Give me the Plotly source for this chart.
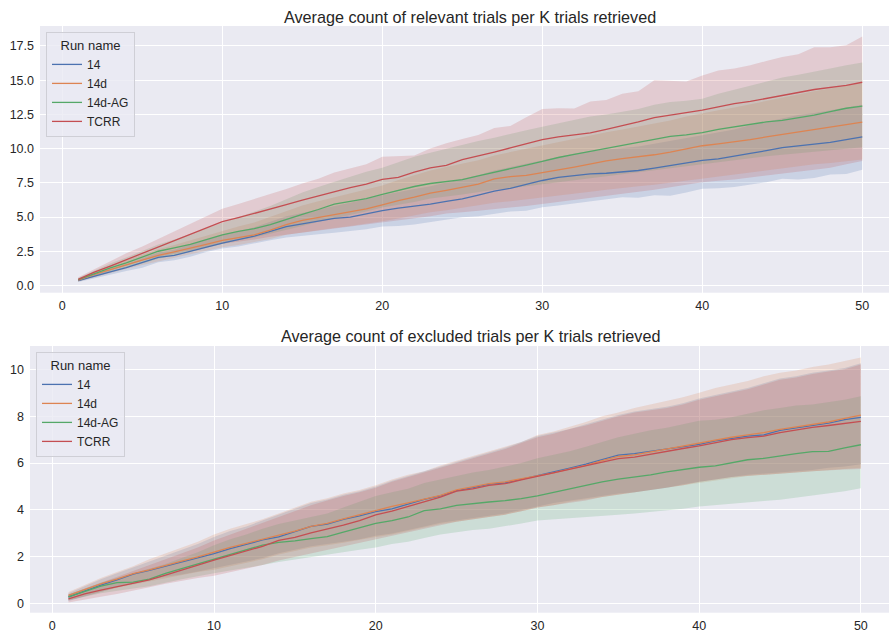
import plotly.graph_objects as go

# ---------------- data ----------------
K = list(range(1, 51))
RUNS = ["14", "14d", "14d-AG", "TCRR"]
COLORS = ["#4c72b0", "#dd8452", "#55a868", "#c44e52"]
BANDS = ["rgba(76,114,176,0.2)", "rgba(221,132,82,0.2)",
         "rgba(85,168,104,0.2)", "rgba(196,78,82,0.2)"]

TITLE_TOP = "Average count of relevant trials per K trials retrieved"
TITLE_BOT = "Average count of excluded trials per K trials retrieved"
LEGEND_TITLE = "Run name"

X_TICKS = [0, 10, 20, 30, 40, 50]
Y_TICKS_TOP = [0, 2.5, 5, 7.5, 10, 12.5, 15, 17.5]
Y_LABELS_TOP = ["0.0", "2.5", "5.0", "7.5", "10.0", "12.5", "15.0", "17.5"]
Y_TICKS_BOT = [0, 2, 4, 6, 8, 10]

# ---- relevant trials (top) ----
rel_14_mean = [0.35, 0.7, 1.0, 1.3, 1.65, 2.05, 2.2, 2.5, 2.85, 3.1,
               3.35, 3.6, 3.95, 4.3, 4.5, 4.7, 4.9, 5.0, 5.25, 5.47,
               5.65, 5.79, 5.95, 6.15, 6.33, 6.6, 6.89, 7.1, 7.4, 7.67,
               7.9, 8.04, 8.15, 8.2, 8.28, 8.4, 8.58, 8.75, 8.95, 9.14,
               9.25, 9.43, 9.65, 9.85, 10.07, 10.2, 10.31, 10.45, 10.65, 10.85]
rel_14_lo = [0.25, 0.55, 0.8, 1.05, 1.3, 1.7, 1.85, 2.1, 2.45, 2.7,
             2.85, 3.05, 3.3, 3.5, 3.65, 3.75, 3.85, 3.95, 4.1, 4.3,
             4.35, 4.45, 4.6, 4.8, 4.98, 5.05, 5.25, 5.4, 5.45, 5.72,
             5.85, 5.95, 6.1, 6.3, 6.45, 6.4, 6.6, 6.55, 6.8, 7.06,
             7.1, 7.2, 7.35, 7.55, 7.79, 7.75, 7.85, 8.1, 8.15, 8.45]
rel_14_hi = [0.45, 0.85, 1.2, 1.55, 1.95, 2.4, 2.6, 2.95, 3.35, 3.7,
             3.95, 4.25, 4.65, 5.05, 5.3, 5.55, 5.8, 6.0, 6.3, 6.6,
             6.85, 7.05, 7.25, 7.5, 7.75, 8.05, 8.4, 8.65, 8.95, 9.2,
             9.45, 9.65, 9.8, 9.9, 10.0, 10.15, 10.35, 10.55, 10.8, 11.0,
             11.15, 11.4, 11.7, 11.95, 12.25, 12.45, 12.6, 12.8, 13.0, 13.2]

rel_14d_mean = [0.38, 0.8, 1.15, 1.5, 1.85, 2.2, 2.45, 2.7, 3.0, 3.3,
                3.5, 3.7, 4.05, 4.45, 4.75, 4.95, 5.15, 5.35, 5.6, 5.89,
                6.2, 6.45, 6.75, 6.95, 7.18, 7.4, 7.79, 7.95, 8.05, 8.23,
                8.45, 8.65, 8.9, 9.1, 9.26, 9.4, 9.55, 9.75, 10.0, 10.21,
                10.35, 10.48, 10.65, 10.85, 11.02, 11.2, 11.39, 11.55, 11.75, 11.93]
rel_14d_lo = [0.28, 0.6, 0.9, 1.2, 1.5, 1.8, 2.0, 2.25, 2.55, 2.8,
              2.95, 3.15, 3.4, 3.7, 3.9, 4.05, 4.2, 4.35, 4.5, 4.7,
              4.9, 5.1, 5.35, 5.5, 5.7, 5.85, 6.05, 6.15, 6.25, 6.4,
              6.55, 6.7, 6.85, 7.0, 7.15, 7.25, 7.35, 7.5, 7.65, 7.8,
              7.95, 8.1, 8.25, 8.4, 8.55, 8.7, 8.85, 8.95, 9.05, 9.2]
rel_14d_hi = [0.5, 1.0, 1.45, 1.85, 2.25, 2.65, 2.95, 3.3, 3.65, 4.0,
              4.3, 4.6, 5.0, 5.45, 5.85, 6.15, 6.45, 6.75, 7.0, 7.3,
              7.7, 8.05, 8.4, 8.65, 8.9, 9.15, 9.5, 9.75, 9.95, 10.2,
              10.45, 10.7, 10.95, 11.2, 11.4, 11.6, 11.8, 12.05, 12.35, 12.6,
              12.8, 13.0, 13.25, 13.5, 13.7, 13.95, 14.2, 14.4, 14.6, 14.8]

rel_ag_mean = [0.42, 0.85, 1.28, 1.65, 2.05, 2.5, 2.75, 3.0, 3.35, 3.7,
               3.95, 4.15, 4.45, 4.85, 5.2, 5.55, 5.95, 6.15, 6.35, 6.66,
               6.95, 7.23, 7.45, 7.6, 7.74, 8.0, 8.28, 8.55, 8.8, 9.06,
               9.35, 9.58, 9.8, 10.05, 10.24, 10.5, 10.73, 10.9, 11.0, 11.17,
               11.4, 11.58, 11.75, 11.95, 12.07, 12.25, 12.44, 12.7, 12.95, 13.1]
rel_ag_lo = [0.3, 0.65, 1.0, 1.3, 1.6, 1.95, 2.2, 2.45, 2.75, 3.05,
             3.3, 3.5, 3.75, 4.05, 4.35, 4.65, 4.95, 5.15, 5.4, 5.7,
             5.9, 6.1, 6.35, 6.5, 6.65, 6.8, 7.0, 7.1, 7.25, 7.4,
             7.55, 7.7, 7.85, 8.0, 8.15, 8.3, 8.45, 8.55, 8.7, 8.9,
             9.0, 9.15, 9.3, 9.45, 9.55, 9.65, 9.8, 9.9, 10.0, 10.1]
rel_ag_hi = [0.55, 1.1, 1.6, 2.05, 2.5, 3.0, 3.35, 3.75, 4.2, 4.6,
             5.0, 5.35, 5.8, 6.3, 6.8, 7.2, 7.6, 7.95, 8.3, 8.6,
             9.0, 9.4, 9.7, 10.0, 10.3, 10.55, 10.8, 11.1, 11.35, 11.6,
             11.85, 12.1, 12.35, 12.5, 12.7, 12.9, 13.2, 13.4, 13.5, 13.65,
             14.0, 14.3, 14.6, 14.9, 15.2, 15.4, 15.6, 15.85, 16.1, 16.3]

rel_tcrr_mean = [0.45, 0.98, 1.42, 1.88, 2.35, 2.85, 3.3, 3.75, 4.2, 4.66,
                 4.95, 5.25, 5.6, 5.9, 6.24, 6.55, 6.85, 7.15, 7.4, 7.75,
                 7.9, 8.28, 8.6, 8.78, 9.2, 9.45, 9.75, 10.05, 10.35, 10.65,
                 10.85, 11.02, 11.15, 11.4, 11.66, 11.95, 12.27, 12.45, 12.62, 12.81,
                 13.05, 13.29, 13.45, 13.65, 13.9, 14.1, 14.32, 14.45, 14.62, 14.85]
rel_tcrr_lo = [0.3, 0.65, 1.05, 1.45, 1.85, 2.1, 2.3, 2.55, 2.8, 3.05,
               3.2, 3.35, 3.55, 3.75, 3.9, 4.05, 4.15, 4.3, 4.45, 4.6,
               4.75, 4.9, 5.05, 5.25, 5.35, 5.45, 5.55, 5.7, 5.8, 5.95,
               6.1, 6.25, 6.35, 6.55, 6.7, 6.85, 7.0, 7.15, 7.35, 7.55,
               7.65, 7.75, 7.9, 8.0, 8.15, 8.3, 8.45, 8.6, 8.85, 9.1]
rel_tcrr_hi = [0.6, 1.2, 1.8, 2.35, 2.85, 3.4, 3.95, 4.5, 5.1, 5.6,
               5.95, 6.3, 6.65, 7.05, 7.45, 7.8, 8.25, 8.55, 8.85, 9.4,
               9.45, 9.5, 10.0, 10.4, 10.7, 11.0, 11.5, 11.65, 12.3, 12.9,
               12.95, 12.93, 13.45, 13.55, 14.0, 14.2, 15.0, 14.95, 14.9, 15.35,
               15.7, 15.86, 16.1, 16.4, 16.7, 16.9, 17.4, 17.4, 17.55, 18.2]

# ---- excluded trials (bottom) ----
exc_14_mean = [0.29, 0.55, 0.8, 1.02, 1.26, 1.42, 1.6, 1.78, 1.95, 2.14,
               2.35, 2.55, 2.72, 2.85, 3.07, 3.3, 3.4, 3.6, 3.75, 3.93,
               4.05, 4.25, 4.45, 4.6, 4.82, 4.95, 5.1, 5.15, 5.3, 5.45,
               5.6, 5.78, 5.95, 6.15, 6.34, 6.4, 6.5, 6.6, 6.7, 6.8,
               6.95, 7.05, 7.15, 7.2, 7.39, 7.5, 7.6, 7.7, 7.85, 7.95]
exc_14_lo = [0.12, 0.3, 0.5, 0.7, 0.85, 1.0, 1.15, 1.25, 1.38, 1.5,
             1.65, 1.8, 1.95, 2.15, 2.3, 2.45, 2.55, 2.65, 2.75, 2.9,
             3.0, 3.15, 3.3, 3.45, 3.55, 3.65, 3.75, 3.85, 4.0, 4.15,
             4.3, 4.4, 4.5, 4.6, 4.7, 4.75, 4.85, 4.95, 5.1, 5.2,
             5.3, 5.4, 5.5, 5.55, 5.6, 5.65, 5.7, 5.8, 5.85, 5.95]
exc_14_hi = [0.45, 0.75, 1.05, 1.3, 1.55, 1.8, 2.05, 2.3, 2.55, 2.85,
             3.1, 3.3, 3.55, 3.8, 4.05, 4.3, 4.45, 4.65, 4.8, 5.0,
             5.25, 5.45, 5.65, 5.85, 6.05, 6.25, 6.45, 6.65, 6.9, 7.15,
             7.3, 7.45, 7.65, 7.85, 8.05, 8.2, 8.3, 8.4, 8.55, 8.75,
             8.9, 9.05, 9.2, 9.4, 9.6, 9.7, 9.85, 9.95, 10.05, 10.25]

exc_14d_mean = [0.36, 0.6, 0.85, 1.05, 1.29, 1.45, 1.65, 1.82, 2.0, 2.21,
                2.4, 2.58, 2.75, 2.9, 3.1, 3.3, 3.43, 3.62, 3.8, 4.0,
                4.15, 4.3, 4.47, 4.62, 4.86, 4.98, 5.12, 5.2, 5.32, 5.45,
                5.58, 5.75, 5.9, 6.1, 6.28, 6.35, 6.48, 6.6, 6.72, 6.85,
                7.0, 7.1, 7.2, 7.3, 7.44, 7.55, 7.65, 7.75, 7.9, 8.04]
exc_14d_lo = [0.15, 0.32, 0.5, 0.68, 0.82, 0.97, 1.1, 1.22, 1.35, 1.45,
              1.6, 1.75, 1.9, 2.1, 2.25, 2.4, 2.5, 2.6, 2.72, 2.85,
              2.95, 3.1, 3.25, 3.4, 3.5, 3.6, 3.7, 3.8, 3.95, 4.1,
              4.2, 4.35, 4.45, 4.55, 4.65, 4.75, 4.85, 4.95, 5.05, 5.15,
              5.25, 5.35, 5.45, 5.5, 5.55, 5.6, 5.65, 5.7, 5.75, 5.8]
exc_14d_hi = [0.5, 0.8, 1.1, 1.35, 1.6, 1.9, 2.15, 2.4, 2.65, 2.95,
              3.2, 3.4, 3.6, 3.85, 4.1, 4.35, 4.5, 4.7, 4.85, 5.05,
              5.3, 5.5, 5.65, 5.9, 6.1, 6.3, 6.5, 6.7, 6.9, 7.2,
              7.35, 7.55, 7.75, 8.0, 8.15, 8.35, 8.5, 8.65, 8.8, 9.0,
              9.2, 9.35, 9.5, 9.7, 9.85, 9.95, 10.1, 10.2, 10.35, 10.5]

exc_ag_mean = [0.29, 0.52, 0.75, 0.9, 0.92, 1.05, 1.3, 1.5, 1.7, 1.89,
               2.1, 2.3, 2.5, 2.62, 2.68, 2.78, 2.86, 3.05, 3.25, 3.43,
               3.55, 3.7, 3.97, 4.05, 4.2, 4.28, 4.34, 4.4, 4.48, 4.6,
               4.75, 4.92, 5.07, 5.2, 5.31, 5.4, 5.5, 5.62, 5.72, 5.82,
               5.88, 6.0, 6.14, 6.2, 6.31, 6.4, 6.49, 6.5, 6.65, 6.78]
exc_ag_lo = [0.15, 0.3, 0.45, 0.55, 0.65, 0.75, 0.9, 1.05, 1.18, 1.3,
             1.42, 1.55, 1.65, 1.78, 1.9, 2.0, 2.1, 2.2, 2.3, 2.4,
             2.55, 2.65, 2.8, 2.95, 3.05, 3.15, 3.2, 3.3, 3.42, 3.55,
             3.6, 3.62, 3.68, 3.75, 3.8, 3.85, 3.9, 3.98, 4.05, 4.15,
             4.2, 4.28, 4.33, 4.38, 4.43, 4.5, 4.6, 4.7, 4.8, 4.93]
exc_ag_hi = [0.4, 0.65, 0.9, 1.1, 1.3, 1.5, 1.7, 1.95, 2.2, 2.5,
             2.75, 2.95, 3.2, 3.4, 3.55, 3.7, 3.85, 4.1, 4.35, 4.6,
             4.75, 4.9, 5.15, 5.3, 5.45, 5.6, 5.7, 5.85, 6.0, 6.2,
             6.35, 6.5, 6.7, 6.9, 7.1, 7.25, 7.4, 7.5, 7.65, 7.8,
             7.85, 7.95, 8.1, 8.25, 8.35, 8.45, 8.5, 8.6, 8.7, 8.85]

exc_tcrr_mean = [0.21, 0.42, 0.58, 0.72, 0.86, 1.02, 1.22, 1.45, 1.65, 1.86,
                 2.05, 2.25, 2.45, 2.7, 2.83, 3.02, 3.17, 3.35, 3.55, 3.79,
                 3.95, 4.15, 4.35, 4.55, 4.8, 4.9, 5.05, 5.12, 5.28, 5.43,
                 5.58, 5.75, 5.88, 6.05, 6.19, 6.25, 6.38, 6.5, 6.62, 6.73,
                 6.88, 7.0, 7.08, 7.15, 7.3, 7.42, 7.52, 7.6, 7.7, 7.78]
exc_tcrr_lo = [0.05, 0.18, 0.3, 0.42, 0.55, 0.7, 0.85, 0.98, 1.1, 1.2,
               1.35, 1.5, 1.65, 1.85, 2.0, 2.15, 2.3, 2.45, 2.6, 2.75,
               2.9, 3.05, 3.2, 3.35, 3.5, 3.6, 3.7, 3.8, 3.95, 4.1,
               4.2, 4.3, 4.4, 4.55, 4.65, 4.75, 4.85, 4.95, 5.05, 5.2,
               5.3, 5.4, 5.45, 5.5, 5.55, 5.6, 5.65, 5.7, 5.72, 5.75]
exc_tcrr_hi = [0.4, 0.65, 0.9, 1.15, 1.4, 1.65, 1.9, 2.15, 2.4, 2.7,
               2.95, 3.2, 3.45, 3.7, 3.95, 4.2, 4.4, 4.6, 4.75, 4.95,
               5.2, 5.4, 5.6, 5.8, 6.0, 6.2, 6.4, 6.6, 6.85, 7.1,
               7.25, 7.45, 7.6, 7.8, 8.0, 8.15, 8.25, 8.35, 8.5, 8.7,
               8.85, 9.0, 9.15, 9.35, 9.55, 9.65, 9.8, 9.9, 10.0, 10.2]

TOP = [(rel_14_mean, rel_14_lo, rel_14_hi),
       (rel_14d_mean, rel_14d_lo, rel_14d_hi),
       (rel_ag_mean, rel_ag_lo, rel_ag_hi),
       (rel_tcrr_mean, rel_tcrr_lo, rel_tcrr_hi)]
BOT = [(exc_14_mean, exc_14_lo, exc_14_hi),
       (exc_14d_mean, exc_14d_lo, exc_14d_hi),
       (exc_ag_mean, exc_ag_lo, exc_ag_hi),
       (exc_tcrr_mean, exc_tcrr_lo, exc_tcrr_hi)]

# ---------------- figure ----------------
W, H = 889, 632
FONT = "Arial, 'Liberation Sans', sans-serif"
TXT = "#262626"

fig = go.Figure()


def add_panel(series, xa, ya, legend):
    # bands first (under all lines)
    for (mean, lo, hi), band in zip(series, BANDS):
        fig.add_trace(go.Scatter(
            x=K + K[::-1], y=hi + lo[::-1], fill="toself", fillcolor=band,
            line=dict(width=0), mode="lines", hoverinfo="skip",
            showlegend=False, xaxis=xa, yaxis=ya))
    for (mean, lo, hi), name, col in zip(series, RUNS, COLORS):
        fig.add_trace(go.Scatter(
            x=K, y=mean, mode="lines", name=name,
            line=dict(color=col, width=1.3),
            xaxis=xa, yaxis=ya, legend=legend))


add_panel(TOP, "x", "y", "legend")
add_panel(BOT, "x2", "y2", "legend2")

axis_common = dict(showgrid=True, gridcolor="white", gridwidth=1,
                   zeroline=False, showline=False, ticks="",
                   tickfont=dict(size=12.5, color=TXT, family=FONT))

legend_common = dict(xanchor="left", yanchor="top",
                     bgcolor="rgba(234,234,242,0.8)", bordercolor="#cfcfd6",
                     borderwidth=1, font=dict(size=12, color=TXT),
                     title=dict(text=LEGEND_TITLE, side="top center",
                                font=dict(size=13, color=TXT)),
                     itemwidth=30, tracegroupgap=0)

fig.update_layout(
    width=W, height=H,
    margin=dict(l=0, r=0, t=0, b=0),
    paper_bgcolor="white", plot_bgcolor="#eaeaf2",
    font=dict(family=FONT, color=TXT, size=13),
    xaxis=dict(domain=[40 / W, 1], range=[-1.394, 51.67], tickvals=X_TICKS,
               anchor="y", ticklabelstandoff=4, **axis_common),
    yaxis=dict(domain=[1 - 292.7 / H, 1 - 26 / H], range=[-0.53, 18.96],
               tickvals=Y_TICKS_TOP, ticktext=Y_LABELS_TOP, anchor="x",
               ticklabelstandoff=5, **axis_common),
    xaxis2=dict(domain=[30 / W, 1], range=[-1.379, 51.74], tickvals=X_TICKS,
                anchor="y2", ticklabelstandoff=4, **axis_common),
    yaxis2=dict(domain=[1 - 612.7 / H, 1 - 346 / H], range=[-0.38, 10.99],
                tickvals=Y_TICKS_BOT, anchor="x2", ticklabelstandoff=5,
                **axis_common),
    legend=dict(x=46 / W, y=1 - 32 / H, **legend_common),
    legend2=dict(x=36 / W, y=1 - 352 / H, **legend_common),
    annotations=[
        dict(text=TITLE_TOP, x=470 / W, y=1 - 16.5 / H, xref="paper",
             yref="paper", xanchor="center", yanchor="middle",
             showarrow=False, font=dict(size=16.2, color=TXT)),
        dict(text=TITLE_BOT, x=470 / W, y=1 - 335.5 / H, xref="paper",
             yref="paper", xanchor="center", yanchor="middle",
             showarrow=False, font=dict(size=16.2, color=TXT)),
    ],
)

fig.write_html(
    "out.html",
    config={"displayModeBar": False},
    post_script="document.body.style.margin='0';document.body.style.overflow='hidden';",
)
